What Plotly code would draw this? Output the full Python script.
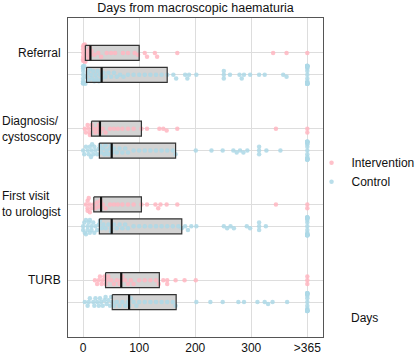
import numpy as np
import plotly.graph_objects as go

# ---------------- data (days) ----------------
stages = ["Referral", "Diagnosis/<br>cystoscopy", "First visit<br>to urologist", "TURB"]
x_tickvals = [0, 100, 200, 300, 400]
x_ticktext = ["0", "100", "200", "300", ">365"]

# box statistics per stage (intervention, control)
int_q1 = [4, 15, 19, 40]
int_med = [13, 30, 32, 68]
int_q3 = [100, 104, 104, 136]
ctrl_q1 = [6, 29, 29, 52]
ctrl_med = [33, 51, 51, 82]
ctrl_q3 = [150, 165, 176, 166]

# individual observations (>365 days plotted at 400)
referral_int = [0, 0, 0, 0, 0, 0, 1, 2, 3, 4, 6, 8, 10, 12, 13, 15, 20, 27, 32, 42, 50, 57, 71,
                80, 92, 98, 110, 114, 128, 132, 168, 339, 363, 400]
referral_ctrl = [0] * 10 + [2, 4, 6, 8, 10, 12, 14, 16, 18, 20, 22, 24, 26, 28, 30, 33, 36, 40, 45,
                            50, 55, 60, 66, 72, 80, 90, 100, 110, 120, 130, 140, 150,
                            161, 166, 182, 186, 189, 202, 251, 251, 251, 262, 279, 283, 287,
                            298, 314, 324, 357, 363] + [400] * 18
diagnosis_int = [3, 5, 8, 10, 12, 12, 15, 18, 22, 25, 28, 30, 35, 40, 48, 55, 62, 70, 80, 90,
                 104, 114, 136, 143, 149, 168, 344, 400, 400]
diagnosis_ctrl = [0, 2, 5, 8, 10, 12, 14, 15, 16, 18, 20, 22, 25, 28, 30, 32, 35, 38, 40, 42, 45,
                  48, 50, 52, 55, 60, 65, 70, 75, 80, 90, 100, 110, 120, 130, 140, 150, 160, 165,
                  201, 229, 249, 268, 274, 280, 286, 293, 314, 314, 314, 327, 352] + [400] * 18
firstvisit_int = [5, 8, 8, 8, 10, 12, 12, 15, 19, 22, 25, 28, 31, 35, 40, 48, 55, 62, 70, 80, 90,
                  104, 114, 129, 134, 138, 149, 168, 344, 400, 400]
firstvisit_ctrl = [0, 0, 2, 3, 5, 5, 8, 8, 10, 12, 12, 15, 15, 18, 20, 22, 25, 28, 30, 33, 36, 40,
                   45, 50, 50, 55, 60, 65, 70, 75, 80, 90, 100, 110, 120, 130, 140, 150, 160, 170,
                   176, 182, 187, 193, 202, 251, 257, 263, 269, 292, 298, 314, 314, 314,
                   326] + [400] * 18
turb_int = [21, 25, 28, 30, 33, 35, 38, 40, 42, 45, 50, 55, 60, 65, 68, 70, 75, 80, 85, 90, 100,
            110, 120, 130, 135, 143, 150, 150, 165, 181, 201, 400, 400, 400]
turb_ctrl = [3, 8, 10, 12, 18, 20, 22, 25, 28, 30, 32, 35, 38, 40, 42, 45, 48, 50, 52, 55, 60, 65,
             70, 75, 80, 82, 85, 90, 95, 100, 110, 120, 130, 140, 150, 160, 165, 202, 227, 249,
             277, 287, 311, 324, 330, 338, 364] + [400] * 16

int_points = [referral_int, diagnosis_int, firstvisit_int, turb_int]
ctrl_points = [referral_ctrl, diagnosis_ctrl, firstvisit_ctrl, turb_ctrl]

# ---------------- styling / layout helpers ----------------
PINK = "#FFB6C1"
BLUE = "#ADD8E6"
X_RANGE = [-27, 428]
PLOT_W = 255.0
PX_PER_DAY = PLOT_W / (X_RANGE[1] - X_RANGE[0])
GROUP_GAP = 76
ROW_GAP = 22
BOX_H = 7.5


def swarm_offsets(vals, dot=4.0, cap=9.0):
    vals = np.asarray(vals, float)
    px = vals * PX_PER_DAY
    order = np.argsort(px, kind="stable")
    offs = np.zeros(len(vals))
    placed_x, placed_y = [], []
    for i in order:
        x = px[i]
        cands = [0.0]
        for k in range(1, 80):
            cands += [k * dot * 0.5, -k * dot * 0.5]
        for c in cands:
            ok = True
            for xx, yy in zip(placed_x, placed_y):
                if (xx - x) ** 2 + (yy - c) ** 2 < dot ** 2 * 0.95:
                    ok = False
                    break
            if ok:
                offs[i] = c
                break
        placed_x.append(x)
        placed_y.append(offs[i])
    return cap * np.tanh(offs / cap)


def row_pos(g, s):
    return GROUP_GAP * g + ROW_GAP * s


fig = go.Figure()

row_vals = []
for g in range(4):
    for s, (q1s, meds, q3s, pts, col, name) in enumerate([
        (int_q1, int_med, int_q3, int_points, PINK, "Intervention"),
        (ctrl_q1, ctrl_med, ctrl_q3, ctrl_points, BLUE, "Control"),
    ]):
        y0 = row_pos(g, s)
        row_vals.append(y0)
        q1, md, q3 = q1s[g], meds[g], q3s[g]
        bx = [q1, q3, q3, q1, q1]
        by = [y0 - BOX_H, y0 - BOX_H, y0 + BOX_H, y0 + BOX_H, y0 - BOX_H]
        # box fill
        fig.add_trace(go.Scatter(x=bx, y=by, mode="lines", fill="toself",
                                 fillcolor="#D3D3D3", line=dict(width=0, color="rgba(0,0,0,0)"),
                                 showlegend=False, hoverinfo="skip"))
        # points
        offs = swarm_offsets(pts[g])
        fig.add_trace(go.Scatter(x=pts[g], y=y0 + offs, mode="markers",
                                 marker=dict(size=4.5, color=col, opacity=0.85, line=dict(width=0)),
                                 name=name, legendgroup=name, showlegend=(g == 0),
                                 legendrank=1 + s, cliponaxis=False))
        # box outline
        fig.add_trace(go.Scatter(x=bx, y=by, mode="lines",
                                 line=dict(width=1.2, color="#333333"),
                                 showlegend=False, hoverinfo="skip"))
        # median
        fig.add_trace(go.Scatter(x=[md, md], y=[y0 - BOX_H, y0 + BOX_H], mode="lines",
                                 line=dict(width=2.2, color="#111111"),
                                 showlegend=False, hoverinfo="skip"))

annotations = []
for g, lab in enumerate(stages):
    annotations.append(dict(text=lab, xref="paper", x=0, xanchor="right", xshift=-5,
                            yref="y", y=row_pos(g, 0), yanchor="middle", align="left",
                            showarrow=False, font=dict(size=12, color="#111111")))
annotations.append(dict(text="Days", xref="paper", x=1.163, xanchor="center",
                        yref="paper", y=0.0596, yanchor="middle", showarrow=False,
                        font=dict(size=12, color="#111111")))

fig.update_layout(
    width=415, height=355,
    margin=dict(l=68, r=92, t=18, b=18, autoexpand=False),
    paper_bgcolor="white", plot_bgcolor="white",
    font=dict(family="Liberation Sans, Arial, sans-serif", size=12, color="#111111"),
    title=dict(text="Days from macroscopic haematuria", x=0.5, xref="paper",
               xanchor="center", y=1 - 8 / 355, yref="container", yanchor="middle",
               font=dict(size=12.5, color="#111111")),
    xaxis=dict(range=X_RANGE, tickvals=x_tickvals, ticktext=x_ticktext,
               showgrid=True, gridcolor="#DDDDDD", gridwidth=1, zeroline=False,
               showline=True, mirror=True, linecolor="#555555", linewidth=1,
               ticks="", tickfont=dict(size=12)),
    yaxis=dict(range=[row_pos(3, 1) + 35, -35], tickvals=row_vals, showticklabels=False,
               showgrid=True, gridcolor="#DDDDDD", gridwidth=1, zeroline=False,
               showline=True, mirror=True, linecolor="#555555", linewidth=1, ticks=""),
    legend=dict(x=0.955, xanchor="left", y=0.592, yanchor="top",
                font=dict(size=12), bgcolor="rgba(0,0,0,0)", tracegroupgap=0),
    annotations=annotations,
)

fig.write_html("out.html", config={"displayModeBar": False},
               post_script="document.body.style.margin='0px';document.body.style.overflow='hidden';")
